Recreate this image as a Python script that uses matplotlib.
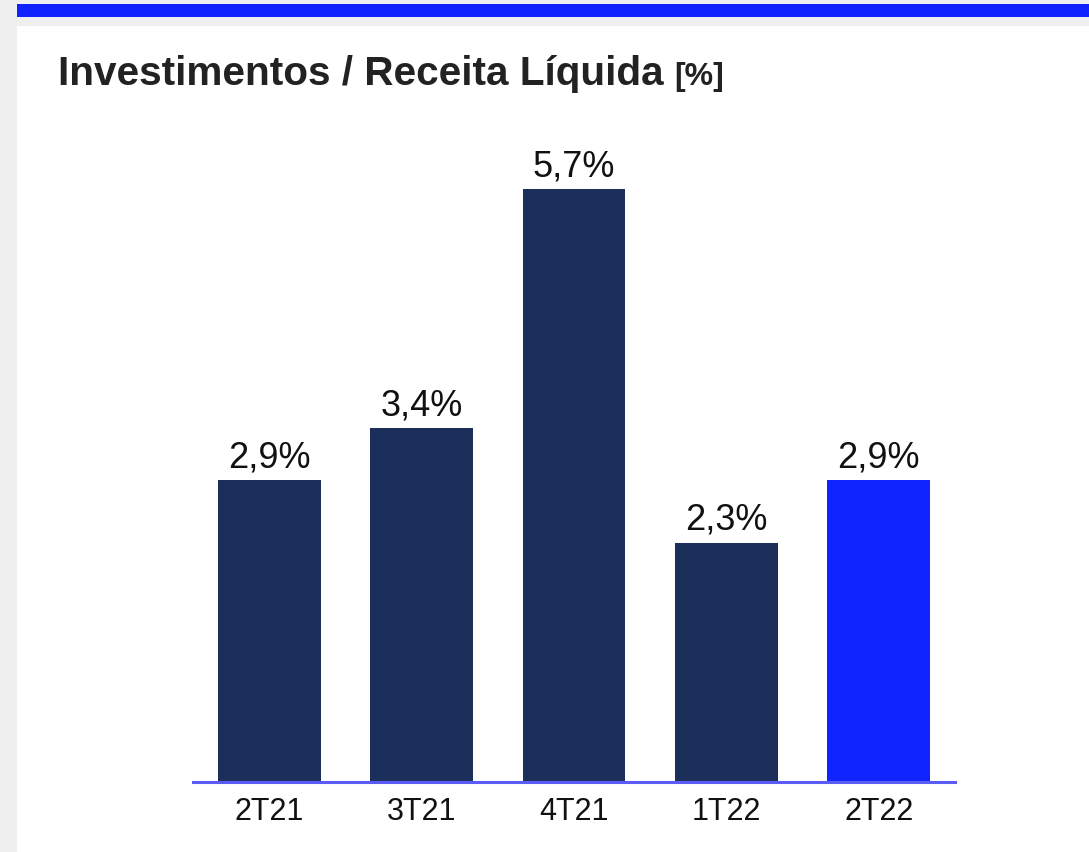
import matplotlib.pyplot as plt
from matplotlib.patches import Rectangle

plt.rcParams['font.family'] = ['Liberation Sans', 'DejaVu Sans']

# dados do gráfico
trimestres = ['2T21', '3T21', '4T21', '1T22', '2T22']
valores = [2.9, 3.4, 5.7, 2.3, 2.9]
rotulos = ['2,9%', '3,4%', '5,7%', '2,3%', '2,9%']
cores = ['#1b2f5a', '#1b2f5a', '#1b2f5a', '#1b2f5a', '#1024ff']

W, H = 1089, 853
fig = plt.figure(figsize=(W / 100, H / 100), dpi=100)
fig.patch.set_facecolor('#efefef')

# faixa azul no topo e painel branco
fig.patches.append(Rectangle((17 / W, 1 - 18 / H), 1, 13 / H, transform=fig.transFigure,
                             facecolor='#0f22ff', edgecolor='none', zorder=-2))
fig.patches.append(Rectangle((17 / W, 0), 1, 1 - 27 / H, transform=fig.transFigure,
                             facecolor='white', edgecolor='none', zorder=-2))

# título
fig.text(58 / W, 1 - 85 / H, 'Investimentos / Receita Líquida', fontsize=29.2,
         fontweight='bold', color='#222222', va='baseline', ha='left')
fig.text(674 / W, 1 - 85 / H, '[%]', fontsize=23,
         fontweight='bold', color='#222222', va='baseline', ha='left')

ax = fig.add_axes([193 / W, (H - 783) / H, 762 / W, 624 / H])
ax.set_zorder(2)
ax.set_facecolor('none')
x = range(len(trimestres))
ax.bar(x, valores, width=0.675, color=cores, zorder=2)

for xi, v, r in zip(x, valores, rotulos):
    ax.annotate(r, (xi, v), xytext=(0, 10), textcoords='offset points',
                ha='center', va='baseline', fontsize=26, color='#111111')

ax.set_xlim(-0.5, 4.5)
ax.set_ylim(0, 6)
ax.set_xticks(list(x))
ax.set_xticklabels(trimestres, fontsize=22, color='#111111')
ax.tick_params(axis='x', length=0, pad=10)
ax.set_yticks([])
for s in ['top', 'right', 'left']:
    ax.spines[s].set_visible(False)
ax.spines['bottom'].set_color('#5b5bf5')
ax.spines['bottom'].set_linewidth(2.2)
ax.spines['bottom'].set_zorder(3)

fig.savefig('out.png', dpi=100, facecolor=fig.get_facecolor())
